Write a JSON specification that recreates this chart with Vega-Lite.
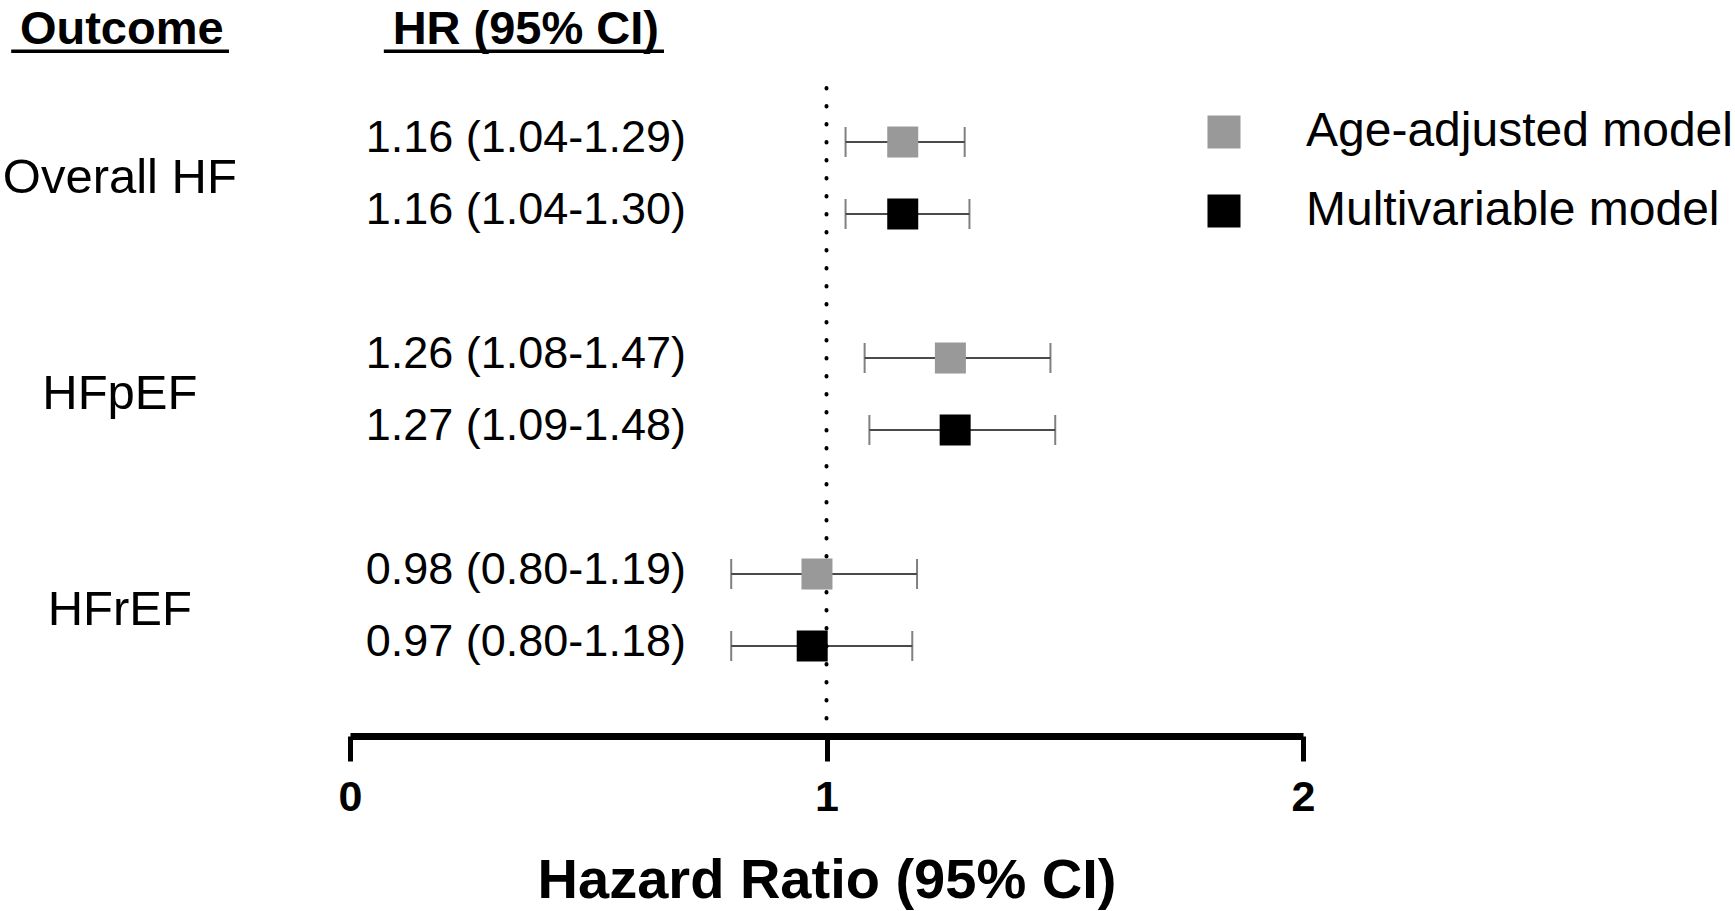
{
  "$schema": "https://vega.github.io/schema/vega-lite/v6.json",
  "width": 953,
  "height": 648,
  "autosize": {"type": "none"},
  "padding": {"left": 350, "top": 88, "right": 432, "bottom": 175},
  "background": "white",
  "config": {"view": {"stroke": null}, "font": "Liberation Sans"},
  "datasets": {
    "rows": [
      {"outcome": "Overall HF", "model": "Age-adjusted model", "row": 1, "hr": 1.16, "lo": 1.04, "hi": 1.29, "label": "1.16 (1.04-1.29)"},
      {"outcome": "Overall HF", "model": "Multivariable model", "row": 2, "hr": 1.16, "lo": 1.04, "hi": 1.30, "label": "1.16 (1.04-1.30)"},
      {"outcome": "HFpEF", "model": "Age-adjusted model", "row": 4, "hr": 1.26, "lo": 1.08, "hi": 1.47, "label": "1.26 (1.08-1.47)"},
      {"outcome": "HFpEF", "model": "Multivariable model", "row": 5, "hr": 1.27, "lo": 1.09, "hi": 1.48, "label": "1.27 (1.09-1.48)"},
      {"outcome": "HFrEF", "model": "Age-adjusted model", "row": 7, "hr": 0.98, "lo": 0.80, "hi": 1.19, "label": "0.98 (0.80-1.19)"},
      {"outcome": "HFrEF", "model": "Multivariable model", "row": 8, "hr": 0.97, "lo": 0.80, "hi": 1.18, "label": "0.97 (0.80-1.18)"}
    ],
    "one": [{}]
  },
  "data": {"name": "rows"},
  "layer": [
    {
      "mark": {"type": "rule", "color": "#4a4a4a", "strokeWidth": 2},
      "encoding": {
        "x": {
          "field": "lo", "type": "quantitative",
          "scale": {"domain": [0, 2], "nice": false, "zero": false},
          "title": "Hazard Ratio (95% CI)",
          "axis": {
            "values": [0, 1, 2], "tickCount": 3, "labelExpr": "datum.value", "labelOverlap": false, "grid": false,
            "domainColor": "black", "domainWidth": 7, "domainCap": "butt",
            "tickColor": "black", "tickWidth": 5, "tickSize": 25,
            "labelFont": "Liberation Sans", "labelFontWeight": "bold", "labelFontSize": 43, "labelColor": "black",
            "labelPadding": 15, "labelFlush": false,
            "titleFont": "Liberation Sans", "titleFontWeight": "bold", "titleFontSize": 56, "titleColor": "black",
            "titlePadding": 34
          }
        },
        "x2": {"field": "hi"},
        "y": {"field": "row", "type": "quantitative", "scale": {"domain": [0.25, 9.25], "reverse": true, "nice": false, "zero": false}, "axis": null}
      }
    },
    {
      "mark": {"type": "tick", "orient": "vertical", "color": "#4a4a4a", "thickness": 2, "size": 30},
      "encoding": {
        "x": {"field": "lo", "type": "quantitative", "title": "Hazard Ratio (95% CI)"},
        "y": {"field": "row", "type": "quantitative", "axis": null}
      }
    },
    {
      "mark": {"type": "tick", "orient": "vertical", "color": "#4a4a4a", "thickness": 2, "size": 30},
      "encoding": {
        "x": {"field": "hi", "type": "quantitative", "title": "Hazard Ratio (95% CI)"},
        "y": {"field": "row", "type": "quantitative", "axis": null}
      }
    },
    {
      "data": {"name": "one"},
      "mark": {"type": "rule", "color": "black", "strokeWidth": 4, "strokeCap": "round", "strokeDash": [0.5, 17.5]},
      "encoding": {"x": {"datum": 1, "type": "quantitative"}}
    },
    {
      "mark": {"type": "square", "size": 961, "opacity": 1, "filled": true},
      "encoding": {
        "x": {"field": "hr", "type": "quantitative", "title": "Hazard Ratio (95% CI)"},
        "y": {"field": "row", "type": "quantitative", "axis": null},
        "color": {
          "field": "model", "type": "nominal",
          "scale": {"domain": ["Age-adjusted model", "Multivariable model"], "range": ["#999999", "#000000"]},
          "legend": {
            "title": null, "orient": "none", "legendX": 850, "legendY": 20,
            "symbolType": "square", "symbolSize": 1089, "symbolStrokeWidth": 0, "symbolOpacity": 1,
            "labelFont": "Liberation Sans", "labelFontSize": 48, "labelColor": "black",
            "labelOffset": 58, "rowPadding": 31, "labelLimit": 600
          }
        }
      }
    },
    {
      "mark": {"type": "text", "align": "right", "baseline": "middle", "fontSize": 45, "color": "black", "dy": -4},
      "encoding": {
        "x": {"datum": 0.705, "type": "quantitative"},
        "y": {"field": "row", "type": "quantitative", "axis": null},
        "text": {"field": "label"}
      }
    },
    {
      "transform": [{"aggregate": [{"op": "mean", "field": "row", "as": "mid"}], "groupby": ["outcome"]}],
      "mark": {"type": "text", "align": "center", "baseline": "middle", "fontSize": 49, "color": "black"},
      "encoding": {
        "x": {"datum": -0.483, "type": "quantitative"},
        "y": {"field": "mid", "type": "quantitative", "axis": null},
        "text": {"field": "outcome"}
      }
    },
    {
      "data": {"name": "one"},
      "mark": {"type": "text", "text": "Outcome", "align": "center", "baseline": "middle", "fontSize": 47, "fontWeight": "bold", "color": "black"},
      "encoding": {"x": {"datum": -0.479, "type": "quantitative"}, "y": {"datum": -0.56, "type": "quantitative"}}
    },
    {
      "data": {"name": "one"},
      "mark": {"type": "text", "text": "HR (95% CI)", "align": "center", "baseline": "middle", "fontSize": 47, "fontWeight": "bold", "color": "black"},
      "encoding": {"x": {"datum": 0.369, "type": "quantitative"}, "y": {"datum": -0.56, "type": "quantitative"}}
    },
    {
      "data": {"name": "one"},
      "mark": {"type": "rule", "color": "black", "strokeWidth": 3.5},
      "encoding": {"x": {"datum": -0.711, "type": "quantitative"}, "x2": {"datum": -0.254}, "y": {"datum": -0.26, "type": "quantitative"}}
    },
    {
      "data": {"name": "one"},
      "mark": {"type": "rule", "color": "black", "strokeWidth": 3.5},
      "encoding": {"x": {"datum": 0.071, "type": "quantitative"}, "x2": {"datum": 0.659}, "y": {"datum": -0.26, "type": "quantitative"}}
    }
  ]
}
